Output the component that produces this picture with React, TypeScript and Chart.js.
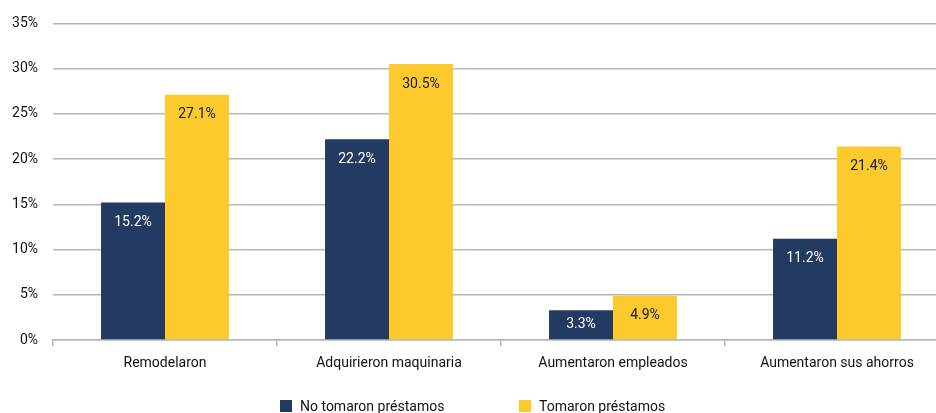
import React, { useEffect, useRef } from "react";
import { Chart, registerables } from "chart.js";

Chart.register(...registerables);

const categories = ["Remodelaron", "Adquirieron maquinaria", "Aumentaron empleados", "Aumentaron sus ahorros"];
const seriesNames = ["No tomaron préstamos", "Tomaron préstamos"];
const noTomaron = [15.2, 22.2, 3.3, 11.2];
const tomaron = [27.1, 30.5, 4.9, 21.4];
const yMin = 0;
const yMax = 35;
const yStep = 5;

const NAVY = "#233a62";
const YELLOW = "#fdca2e";
const GRID = "#b5b5b5";
const FONT = "Roboto, 'Liberation Sans', Arial, sans-serif";

const labelPlugin = {
  id: "barLabels",
  afterDatasetsDraw(chart: any) {
    const ctx = chart.ctx;
    ctx.save();
    ctx.font = `14px ${FONT}`;
    ctx.textAlign = "center";
    ctx.textBaseline = "middle";
    chart.data.datasets.forEach((ds: any, di: number) => {
      const meta = chart.getDatasetMeta(di);
      meta.data.forEach((bar: any, i: number) => {
        const h = bar.base - bar.y;
        const off = Math.min(20, h / 2);
        ctx.fillStyle = di === 0 ? "#ffffff" : "#1a1a1a";
        ctx.fillText(ds.data[i].toFixed(1) + "%", bar.x, bar.y + off);
      });
    });
    ctx.restore();
  },
};

const legendPlugin = {
  id: "customLegend",
  afterDraw(chart: any) {
    const ctx = chart.ctx;
    ctx.save();
    ctx.font = `14px ${FONT}`;
    ctx.textBaseline = "middle";
    ctx.textAlign = "left";
    const starts = [280, 519];
    const y = 406;
    chart.data.datasets.forEach((ds: any, di: number) => {
      const x = starts[di];
      ctx.fillStyle = ds.backgroundColor;
      ctx.fillRect(x, y - 6, 12, 12);
      ctx.fillStyle = "#111111";
      ctx.fillText(ds.label, x + 20, y + 1);
    });
    ctx.restore();
  },
};

export default function App() {
  const ref = useRef<HTMLCanvasElement>(null);
  useEffect(() => {
    if (!ref.current) return;
    const chart = new Chart(ref.current, {
      type: "bar",
      data: {
        labels: categories,
        datasets: [
          { label: seriesNames[0], data: noTomaron, backgroundColor: NAVY },
          { label: seriesNames[1], data: tomaron, backgroundColor: YELLOW },
        ],
      },
      options: {
        responsive: false,
        animation: false,
        devicePixelRatio: 1,
        layout: { padding: { top: 23, right: 11, bottom: 33, left: 0 } },
        datasets: { bar: { categoryPercentage: 0.571, barPercentage: 1.0 } },
        plugins: { legend: { display: false }, tooltip: { enabled: false } },
        scales: {
          x: {
            offset: true,
            grid: { display: true, drawOnChartArea: false, drawTicks: true, tickLength: 6, color: GRID, lineWidth: 1.5 },
            border: { display: true, color: GRID, width: 1.5 },
            ticks: { color: "#111111", font: { family: FONT, size: 14 }, padding: 9, maxRotation: 0, autoSkip: false },
            afterFit(scale: any) { scale.height = 40; },
          },
          y: {
            min: yMin,
            max: yMax,
            grid: { color: GRID, lineWidth: 1.5, drawTicks: false },
            border: { display: false },
            ticks: {
              stepSize: yStep,
              color: "#111111",
              font: { family: FONT, size: 14 },
              padding: 15,
              callback: (v: any) => v + "%",
            },
            afterFit(scale: any) { scale.width = 53; },
          },
        },
      },
      plugins: [labelPlugin, legendPlugin],
    });
    return () => chart.destroy();
  }, []);
  return (
    <div style={{ position: "absolute", left: 0, top: 0, width: 936, height: 413, overflow: "hidden", background: "#fff" }}>
      <canvas ref={ref} width={960} height={413} style={{ display: "block" }} />
    </div>
  );
}
